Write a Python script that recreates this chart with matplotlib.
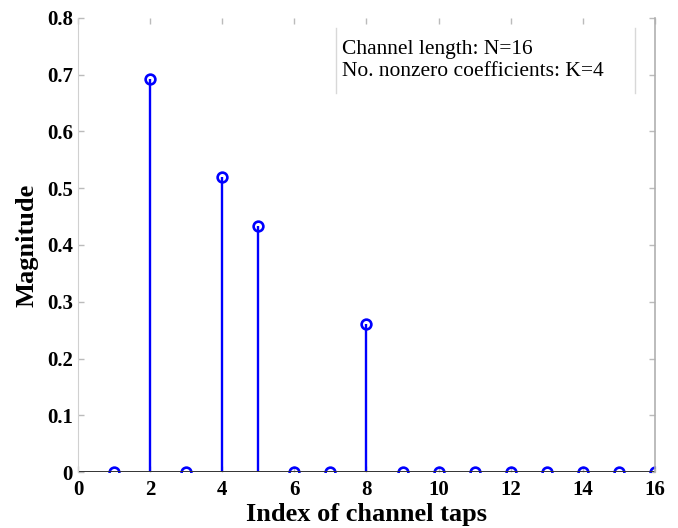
import matplotlib
matplotlib.use("Agg")
import matplotlib.pyplot as plt

# channel taps and their magnitudes
taps = [1, 2, 3, 4, 5, 6, 7, 8, 9, 10, 11, 12, 13, 14, 15, 16]
magnitude = [0, 0.692, 0, 0.519, 0.433, 0, 0, 0.261, 0, 0, 0, 0, 0, 0, 0, 0]
xticks = [0, 2, 4, 6, 8, 10, 12, 14, 16]
yticks = [0, 0.1, 0.2, 0.3, 0.4, 0.5, 0.6, 0.7, 0.8]
ytick_labels = ["0", "0.1", "0.2", "0.3", "0.4", "0.5", "0.6", "0.7", "0.8"]
info_lines = ["Channel length: N=16", "No. nonzero coefficients: K=4"]

plt.rcParams['font.family'] = ['Liberation Serif', 'DejaVu Serif']

fig = plt.figure(figsize=(6.78, 5.28), dpi=100)
ax = fig.add_axes([0.115, 0.106, 0.851, 0.86])

markers, stems, base = ax.stem(taps, magnitude, basefmt='k-')
plt.setp(stems, color='#0000ff', linewidth=1.7)
plt.setp(markers, color='#0000ff', markerfacecolor='none', markersize=7, markeredgewidth=1.9)
plt.setp(base, color='#333333', linewidth=1.4)
base.set_xdata([0, 16])

ax.set_xlim(0, 16)
ax.set_ylim(0, 0.8)
ax.set_xticks(xticks)
ax.set_yticks(yticks)
ax.set_yticklabels(ytick_labels)

ax.spines['left'].set_color('#d0d0d0')
ax.spines['top'].set_visible(False)
ax.spines['bottom'].set_visible(False)
ax.spines['right'].set_color('#b0b0b0')
ax.spines['right'].set_linewidth(1.2)
ax.tick_params(direction='in', length=4, color='#bbbbbb', width=1,
               top=True, right=True, labelsize=15)
ax.tick_params(axis='x', pad=6)
for lbl in ax.get_xticklabels() + ax.get_yticklabels():
    lbl.set_fontweight('bold')

ax.set_xlabel("Index of channel taps", fontsize=19, fontweight='bold', labelpad=2)
ax.set_ylabel("Magnitude", fontsize=19, fontweight='bold', labelpad=6)

# text box with only left/right edges, as in the original
ax.text(0.458, 0.952, "\n".join(info_lines), transform=ax.transAxes,
        fontsize=15.5, va='top', ha='left', linespacing=1.25)
ax.plot([0.447, 0.447], [0.835, 0.978], transform=ax.transAxes, color='#d8d8d8', lw=1, clip_on=False)
ax.plot([0.965, 0.965], [0.835, 0.978], transform=ax.transAxes, color='#d8d8d8', lw=1, clip_on=False)

fig.savefig("out.png", dpi=100)
